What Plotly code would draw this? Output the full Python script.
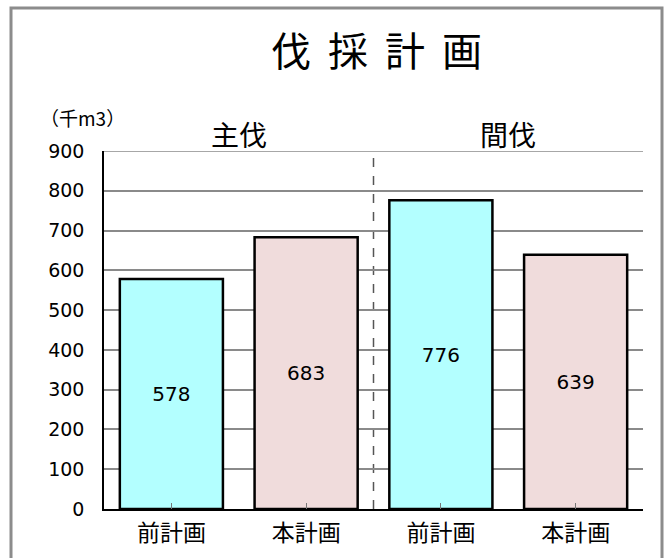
import plotly.graph_objects as go

categories = ["前計画", "本計画", "前計画", "本計画"]
values = [578, 683, 776, 639]
bar_colors = ["#B3FFFF", "#F0DCDC", "#B3FFFF", "#F0DCDC"]
group_labels = ["主伐", "間伐"]
y_ticks = [0, 100, 200, 300, 400, 500, 600, 700, 800, 900]
title_text = "伐 採 計 画"
unit_text = "（千m3）"

FONT = "Noto Sans CJK JP, sans-serif"
NUMFONT = "DejaVu Sans, sans-serif"

x_pos = list(range(len(categories)))

fig = go.Figure()
fig.add_trace(go.Bar(
    x=x_pos, y=values,
    marker=dict(color=bar_colors, line=dict(color="black", width=2.5)),
    text=[str(v) for v in values],
    textposition="inside", insidetextanchor="middle",
    textfont=dict(family=NUMFONT, size=20, color="black"),
    width=0.765,
    hoverinfo="skip",
))

W, H = 667, 558
L, R, T, B = 104, 24, 151, 49
pw, ph = W - L - R, H - T - B

def px(x):
    return (x - L) / pw

def py(y):
    return (H - B - y) / ph

fig.update_layout(
    width=W, height=H,
    margin=dict(l=L, r=R, t=T, b=B, autoexpand=False),
    paper_bgcolor="white", plot_bgcolor="white",
    showlegend=False,
    font=dict(family=FONT, color="black"),
    xaxis=dict(
        range=[-0.5, 3.5],
        tickmode="array", tickvals=x_pos, ticktext=categories,
        tickfont=dict(family=FONT, size=23, color="black"),
        showline=True, linecolor="black", linewidth=1.5,
        showgrid=False, zeroline=False, automargin=False,
        ticks="inside", tickson="boundaries", ticklen=6, tickcolor="#777777", tickwidth=1,
        ticklabelstandoff=3,
    ),
    yaxis=dict(
        range=[0, 900],
        tickmode="array", tickvals=y_ticks, ticktext=[str(v) for v in y_ticks],
        tickfont=dict(family=NUMFONT, size=19, color="black"),
        showline=True, linecolor="black", linewidth=1.5,
        showgrid=True, gridcolor="#8a8a8a", gridwidth=1.5, automargin=False,
        zeroline=False, ticks="", ticklabelstandoff=14,
    ),
    bargap=0.235,
)

# outer frame
fig.add_shape(type="rect", xref="paper", yref="paper",
              x0=px(11), x1=px(662), y0=py(575), y1=py(8),
              line=dict(color="#8c8c8c", width=3), fillcolor="rgba(0,0,0,0)", layer="below")

# top gridline at max tick
fig.add_shape(type="line", xref="paper", yref="y", x0=0, x1=1, y0=y_ticks[-1], y1=y_ticks[-1],
              line=dict(color="#8a8a8a", width=1.5), layer="below")

# dashed separator
fig.add_shape(type="line", xref="x", yref="paper", x0=1.5, x1=1.5, y0=0, y1=1,
              line=dict(color="#555555", width=1.5, dash="dash"), layer="below")

# title
fig.add_annotation(text=title_text.replace(" ", "\u2009 "), xref="paper", yref="paper",
                   x=px(377), y=py(49), showarrow=False,
                   font=dict(family=FONT, size=40, color="black"),
                   xanchor="center", yanchor="middle")
# unit
fig.add_annotation(text=unit_text, xref="paper", yref="paper",
                   x=px(82), y=py(117), showarrow=False,
                   font=dict(family=FONT, size=19, color="black"),
                   xanchor="center", yanchor="middle")
# group labels
for i, g in enumerate(group_labels):
    fig.add_annotation(text=g, xref="x", yref="paper",
                       x=0.5 + 2 * i, y=py(134), showarrow=False,
                       font=dict(family=FONT, size=28, color="black"),
                       xanchor="center", yanchor="middle")

fig.write_html("out.html")
